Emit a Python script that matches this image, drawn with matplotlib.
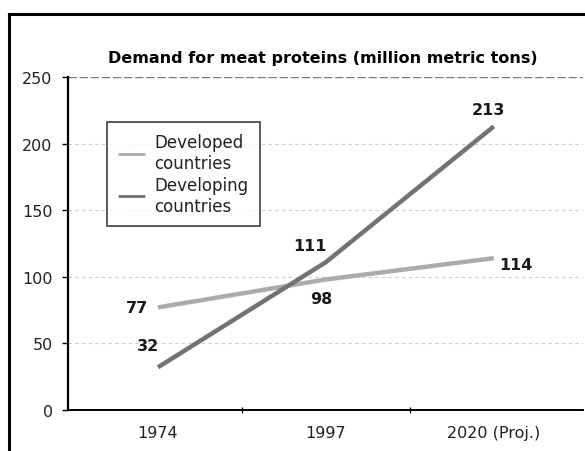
import matplotlib.pyplot as plt
from matplotlib.lines import Line2D

plt.rcParams['font.family'] = ['DejaVu Sans']

# data
years = ['1974', '1997', '2020 (Proj.)']
developed = [77, 98, 114]
developing = [32, 111, 213]
yticks = [0, 50, 100, 150, 200, 250]

fig = plt.figure(figsize=(5.85, 4.52), dpi=100)
ax = fig.add_axes([0.1162, 0.091, 0.880, 0.736])

x = range(len(years))
ax.plot(x, developed, color='#ababab', lw=3.2, solid_capstyle='butt', label='Developed\ncountries')
ax.plot(x, developing, color='#727272', lw=3.2, solid_capstyle='butt', label='Developing\ncountries')

# value labels (offsets in points)
lab_kw = dict(textcoords='offset points', fontsize=11.5, fontweight='bold', color='#1a1a1a',
              ha='center', va='center')
ax.annotate(str(developed[0]), (0, developed[0]), xytext=(-15, 0), **lab_kw)
ax.annotate(str(developing[0]), (0, developing[0]), xytext=(-7, 16), **lab_kw)
ax.annotate(str(developing[1]), (1, developing[1]), xytext=(-11.5, 12), **lab_kw)
ax.annotate(str(developed[1]), (1, developed[1]), xytext=(-3, -14), **lab_kw)
ax.annotate(str(developing[2]), (2, developing[2]), xytext=(-3.5, 12), **lab_kw)
ax.annotate(str(developed[2]), (2, developed[2]), xytext=(16, -4.5), **lab_kw)

ax.set_xlim(-0.536, 2.53)
ax.set_ylim(0, 250)
ax.set_yticks(yticks)
ax.set_xticks(list(x))
ax.set_xticklabels(years)
ax.set_xticks([0.5, 1.5], minor=True)
ax.tick_params(axis='x', which='major', length=0, pad=11, labelsize=11.5, colors='#222222')
ax.tick_params(axis='x', which='minor', length=4, direction='inout', width=1)
ax.tick_params(axis='y', length=4, width=1, pad=7, labelsize=11.5, labelcolor='#222222')

for v in yticks[1:]:
    ax.axhline(v, color='#7a7a7a' if v == 250 else '#cccccc', lw=1.0 if v == 250 else 0.8,
               ls=(0, (6, 2)) if v == 250 else (0, (3, 3)), zorder=0)

ax.spines['top'].set_visible(False)
ax.spines['right'].set_visible(False)
ax.spines['left'].set_linewidth(1.6)
ax.spines['bottom'].set_linewidth(1.4)

ax.set_title('Demand for meat proteins (million metric tons)', fontsize=11.5, fontweight='bold',
             pad=11, x=0.495)

leg = ax.legend(loc='upper left', bbox_to_anchor=(0.076, 0.865), fontsize=12, frameon=True,
                fancybox=False, edgecolor='#222222', handlelength=1.6, handletextpad=0.6,
                borderpad=0.65, labelspacing=0.25, borderaxespad=0)
leg.get_frame().set_linewidth(1.3)
for h in leg.get_lines():
    h.set_linewidth(2)
for t in leg.get_texts():
    t.set_color('#222222')

# outer frame
fig.add_artist(Line2D([0.016, 0.016], [0.0, 0.967], color='black', lw=2.2, transform=fig.transFigure))
fig.add_artist(Line2D([0.016, 1.0], [0.967, 0.967], color='black', lw=2.2, transform=fig.transFigure))

fig.savefig('out.png', dpi=100)
